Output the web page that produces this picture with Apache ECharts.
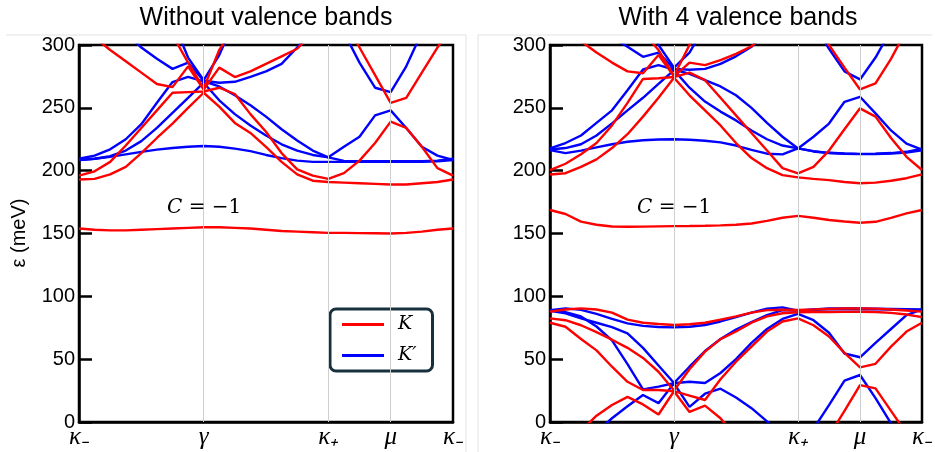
<!DOCTYPE html>
<html><head><meta charset="utf-8">
<script src="https://cdn.jsdelivr.net/npm/echarts@6/dist/echarts.min.js"></script>
<style>html,body{margin:0;padding:0;background:#fff}#c{width:935px;height:452px}</style>
</head><body><div id="c"></div>
<script>
// momentum path sampling (κ- → γ → κ+ → μ → κ-), 8 steps per |K|
const kGrid = [0,0.125,0.25,0.375,0.5,0.625,0.75,0.875,1,1.125,1.25,1.375,1.5,1.625,1.75,1.875,2,2.125,2.25,2.375,2.5,2.625,2.75,2.875,3];
const xTickValues = [0,1,2,2.5,3];
const xTickLabels = ['κ₋','γ','κ₊','μ','κ₋'];
const panelTitles = ['Without valence bands','With 4 valence bands'];
const seriesNames = ['K','K′'];

// ---- Left panel (without valence bands), energies in meV ----
const leftRedChern = [154,153,152.5,152.5,153,153.5,154,154.5,155,155,154.5,154,153,152,151.5,151,150.5,150.5,150.3,150.2,150,150.5,151.5,153,154];
const leftRed1 = [193,193.5,197,203,214,226,237.5,250,262,251,238,230,219,207,197,192,191,190.5,190,189.5,189,189,190,191,193];
const leftRed2 = [196,199.5,207,220,234,248,262,262.5,263,266,261,245,231,214,201,196,193.5,198,208,222,239,234,219,202,196];
const leftRed3 = [316,306,296,287,278,269,266.5,283,264.5,282,274.5,279,285,291,297,310,325,320,298,276,254,258,278,298,316];
const leftRed4 = [345,340,335,330,325,318,308,286,265.5,296,315,330,340,345,345,345,345,345,345,345,345,345,345,345,345];
const leftBlue1 = [208.5,209.5,211,213,215,216.7,218,219,219.6,219,217.5,215.5,212.5,210,208,207,207,207,207,207,207,207,207,207.5,208.5];
const leftBlue2 = [208.5,209.5,211.5,216,223.5,234,246,258,270,256,245,236,228,221,216,212.5,210.6,219,227,244,248,234,219,212,208.5];
const leftBlue3 = [209.5,212,217,225,237,254,270.5,274.7,271,267,260,252,243,233,224,216,210.6,207.8,207.5,207.5,207.5,207.5,207.6,208,209.5];
const leftBlue4 = [335,328,320,310,298,289,281,286,271.5,270,270.7,274.7,279,285,298,313,325,310,286,266,262.5,283,310,325,335];
const leftBlue5 = [345,345,345,345,345,335,320,290,272,292,320,340,345,345,345,345,345,345,345,345,345,345,345,345,345];

// ---- Right panel (with 4 valence bands) ----
const rightRedChern = [168.7,165.5,159.5,157,155.6,155.4,155.5,155.7,155.9,156,156.2,156.5,157,158,160,162.5,164,162.5,160.7,159.5,158.6,159.3,162.5,166,168.7];
const rightRed1 = [197,198,203,209,218,229,243,258,274,260,248,236,222,210,202,196.5,194.7,193.5,192.5,191,190,190.5,192,194,197];
const rightRed2 = [200.5,205.5,213,222,236,254,273,273.5,274.5,278,272,258,244,230,216,202,197.8,203,216,233,249.6,243,226,211,200.5];
const rightRed3 = [322,311,303,294,286,279,277.5,292,275,286,284,288,293,299,310,322,330,318,300,282,264.6,269.4,289,312,322];
const rightRed4 = [345,345,345,345,340,330,310,296,275.5,300,320,340,345,345,345,345,345,345,345,345,345,345,345,345,345];
const rightBlue1 = [216.4,214,216,218.5,221,223,224.2,224.8,225,224.6,223.8,222.5,220,216.5,213.5,213,217.7,215.3,214,213.5,213.2,213.3,213.7,214.5,216.2];
const rightBlue2 = [216.8,218,221,228,237.6,248,258,269,280,266,255,247,240,232,225,220,217.7,227,237.5,254.8,258.8,245.6,232,221.5,216.8];
const rightBlue3 = [217.7,222,228,238,248,264,280.5,284,280.5,277,272,267,260,250,238,227,217.7,215.5,214.2,213.7,213.4,213.5,214,215,217.5];
const rightBlue4 = [332,326,320,313,306,298.6,290.6,294,281,280.3,281,285,291,298.6,310,320,330,318,297,279,272.6,290,312,325,332];
const rightBlue5 = [345,345,345,345,345,340,330,300,282,294,315,335,345,345,345,345,345,345,345,345,345,345,345,345,345];
const rightValRed1 = [87.8,89.5,90.4,89.5,87,81.5,79,78,77.2,77.8,79,81.5,84,87,89,89.3,89.1,89.5,90,90.3,90.4,90.2,89.5,88.7,87.8];
const rightValRed2 = [82.5,81,77,71.5,65.5,59,51,40,25,42,56,66,72,79,84,86.5,87.3,87.4,87.5,87.6,87.7,87.5,86.8,85.5,83.5];
const rightValRed3 = [79,75.8,66,57,44,32,25.5,25.5,24.5,21,17.5,34,48,60,72,80,82.5,77,68,55,43.5,46.3,60,72,79];
const rightValRed4 = [-40,-25,-7,5,13.5,20,14,6,24.5,8,13,3,-12,-30,-40,-40,-40,-30,-11,8.8,29.4,26.8,8.8,-9,-25];
const rightValBlue1 = [89,90.4,89.2,86,82,78.5,76.5,75.6,75.3,75.8,77.2,80,83.5,87,90.2,91.2,88.5,89.5,90.4,90.4,90.4,90.2,90,89.8,89.6];
const rightValBlue2 = [89,87.5,84,76,65,46,26,28.2,30.8,32,31,39,50,63,74,82,86,81,71,54.5,51.5,63,74,85,89.6];
const rightValBlue3 = [88.5,86.5,82.5,79,75.5,70.6,59,45,31,44,56.5,66,73.5,79.5,85,89,88.5,89.3,89.6,89.7,89.7,89.6,89.5,89.3,89];
const rightValBlue4 = [-40,-30,-20,-8,3,12.5,21.5,15,30.8,12,22.5,26.5,19.5,11,0.5,-12,-25,-5.4,13.5,33,37.4,19,-1,-20,-40];

const panels = [
  {red:[leftRedChern,leftRed1,leftRed2,leftRed3,leftRed4], blue:[leftBlue1,leftBlue2,leftBlue3,leftBlue4,leftBlue5]},
  {red:[rightRedChern,rightRed1,rightRed2,rightRed3,rightRed4,rightValRed1,rightValRed2,rightValRed3,rightValRed4],
   blue:[rightBlue1,rightBlue2,rightBlue3,rightBlue4,rightBlue5,rightValBlue1,rightValBlue2,rightValBlue3,rightValBlue4]}
];
const RED = '#ff0000', BLUE = '#0000ff';

const grids = [
  {left:79, top:45, width:374, height:377, show:true, borderColor:'#000', borderWidth:2.5, backgroundColor:'transparent'},
  {left:550, top:45, width:375, height:377, show:true, borderColor:'#000', borderWidth:2.5, backgroundColor:'transparent'}
];
const xAxes = [0,1].map(p => ({
  type:'value', gridIndex:p, min:0, max:3, interval:0.5,
  axisLine:{show:true, lineStyle:{color:'#000', width:2.5}},
  axisTick:{show:false}, splitLine:{show:false},
  axisLabel:{color:'#000', fontSize:25, fontFamily:'Liberation Serif', fontStyle:'italic', margin:3,
    showMinLabel:true, showMaxLabel:true,
    formatter: v => { const i = xTickValues.findIndex(t => Math.abs(t - v) < 1e-6); return i >= 0 ? xTickLabels[i] : ''; }}
}));
const yAxes = [0,1].map(p => ({
  type:'value', gridIndex:p, min:0, max:300, interval:50,
  axisLine:{show:true, lineStyle:{color:'#000', width:2.5}},
  axisTick:{show:true, inside:true, length:13, lineStyle:{color:'#000', width:2.5}},
  splitLine:{show:false},
  axisLabel:{color:'#000', fontSize:20, fontFamily:'Liberation Sans', margin:4}
}));

const series = [];
[0,1].forEach(p => {
  series.push({type:'line', xAxisIndex:p, yAxisIndex:p, data:[[0,-100],[3,-100]], silent:true, z:1,
    showSymbol:false, lineStyle:{width:0},
    markLine:{silent:true, symbol:['none','none'], label:{show:false},
      lineStyle:{color:'#cfcfcf', width:1, type:'solid'},
      data:[{xAxis:1},{xAxis:2},{xAxis:2.5}]}});
  panels[p].blue.forEach(b => series.push({type:'line', name:seriesNames[1], xAxisIndex:p, yAxisIndex:p,
    data:kGrid.map((k,i)=>[k,b[i]]), showSymbol:false, symbol:'none', z:2, clip:true,
    lineStyle:{color:BLUE, width:2.4}, itemStyle:{color:BLUE}}));
  panels[p].red.forEach(b => series.push({type:'line', name:seriesNames[0], xAxisIndex:p, yAxisIndex:p,
    data:kGrid.map((k,i)=>[k,b[i]]), showSymbol:false, symbol:'none', z:3, clip:true,
    lineStyle:{color:RED, width:2.4}, itemStyle:{color:RED}}));
});

const option = {
  animation:false,
  backgroundColor:'#fff',
  grid: grids, xAxis: xAxes, yAxis: yAxes, series: series,
  legend:{data:seriesNames, orient:'vertical', left:330, top:309, selectedMode:false,
    icon:'rect', itemWidth:42, itemHeight:3, itemGap:12,
    padding:[6,16,6,12], borderColor:'#17303d', borderWidth:3, borderRadius:6, backgroundColor:'#fff',
    textStyle:{color:'#000', fontFamily:'DejaVu Serif', fontStyle:'italic', fontSize:19, padding:[0,0,0,9]}},
  graphic:[
    {type:'line', shape:{x1:6,y1:35,x2:466,y2:35}, style:{stroke:'#e2e2e2', lineWidth:1}, silent:true},
    {type:'line', shape:{x1:466,y1:35,x2:466,y2:452}, style:{stroke:'#e2e2e2', lineWidth:1}, silent:true},
    {type:'line', shape:{x1:478,y1:35,x2:932,y2:35}, style:{stroke:'#e2e2e2', lineWidth:1}, silent:true},
    {type:'line', shape:{x1:478,y1:35,x2:478,y2:452}, style:{stroke:'#e2e2e2', lineWidth:1}, silent:true},
    {type:'text', x:266, y:18, style:{text:panelTitles[0], fill:'#000', font:'25px "Liberation Sans"', textAlign:'center', textVerticalAlign:'middle', verticalAlign:'middle'}},
    {type:'text', x:738, y:18, style:{text:panelTitles[1], fill:'#000', font:'25px "Liberation Sans"', textAlign:'center', textVerticalAlign:'middle', verticalAlign:'middle'}},
    {type:'text', x:19, y:233, rotation:Math.PI/2, style:{text:'ε (meV)', fill:'#000', font:'20px "Liberation Sans"', textAlign:'center', textVerticalAlign:'middle', verticalAlign:'middle'}},
    {type:'text', x:167, y:208, z:10, style:{text:'{i|C} = −1', fill:'#000', font:'20px "DejaVu Serif"', textVerticalAlign:'middle', verticalAlign:'middle',
      rich:{i:{fontStyle:'italic', fontFamily:'DejaVu Serif', fontSize:20}}}},
    {type:'text', x:637, y:208, z:10, style:{text:'{i|C} = −1', fill:'#000', font:'20px "DejaVu Serif"', textVerticalAlign:'middle', verticalAlign:'middle',
      rich:{i:{fontStyle:'italic', fontFamily:'DejaVu Serif', fontSize:20}}}}
  ]
};
const chart = echarts.init(document.getElementById('c'), null, {renderer:'canvas'});
chart.setOption(option);
</script>
</body></html>
